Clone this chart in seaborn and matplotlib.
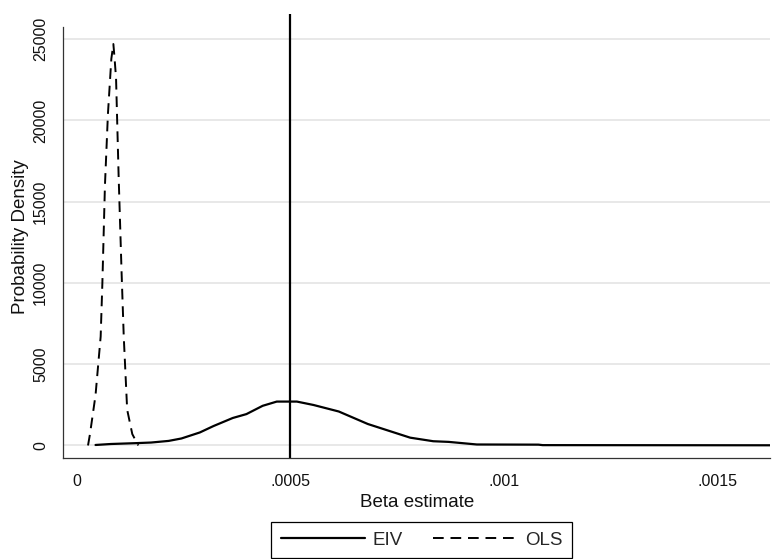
import pandas as pd
import seaborn as sns
import matplotlib.pyplot as plt

# kernel density estimates
eiv_x = [0.000044, 0.00008, 0.000136, 0.000174, 0.000215, 0.000245, 0.000288, 0.00032,
         0.000365, 0.000397, 0.000435, 0.000468, 0.000515, 0.000554, 0.000613, 0.000681,
         0.00078, 0.000834, 0.00087, 0.000936, 0.00108, 0.00109, 0.00165]
eiv_y = [30, 90, 140, 180, 280, 430, 800, 1195, 1690, 1930, 2440, 2700, 2700, 2490, 2090,
         1320, 480, 260, 220, 60, 50, 20, 10]

ols_x = [0.0000264, 0.000031, 0.000044, 0.000056, 0.000060, 0.000063, 0.000066, 0.000073,
         0.000081, 0.0000857, 0.000088, 0.000092, 0.000098, 0.000105, 0.000110, 0.000118,
         0.000130, 0.000144]
ols_y = [0, 700, 3100, 6700, 10000, 13000, 16000, 20400, 23800, 24700, 24000, 22600, 16600,
         10600, 6700, 2200, 700, 0]

true_beta = 0.0005
x_ticks = [0, 0.0005, 0.001, 0.0015]
x_labels = ['0', '.0005', '.001', '.0015']
y_ticks = [0, 5000, 10000, 15000, 20000, 25000]

eiv = pd.DataFrame({'beta': eiv_x, 'density': eiv_y})
ols = pd.DataFrame({'beta': ols_x, 'density': ols_y})

sns.set_style('white')
plt.rcParams['font.family'] = ['Liberation Sans', 'DejaVu Sans']

fig = plt.figure(figsize=(7.72, 5.59), dpi=100)
ax = fig.add_axes([0.082, 0.180, 0.9155, 0.795])

sns.lineplot(data=eiv, x='beta', y='density', ax=ax, color='black', lw=1.6,
             estimator=None, label='EIV')
sns.lineplot(data=ols, x='beta', y='density', ax=ax, color='black', lw=1.4,
             linestyle=(0, (5.5, 3.5)), estimator=None, label='OLS')
ax.axvline(true_beta, color='black', lw=1.6)

ax.set_xlim(-0.0000314, 0.001622)
ax.set_ylim(-795, 26550)
ax.set_xticks(x_ticks)
ax.set_xticklabels(x_labels)
ax.set_yticks(y_ticks)
ax.set_yticklabels([str(v) for v in y_ticks], rotation=90, va='center')
ax.tick_params(axis='both', direction='out', length=5, width=0.9, color='#333333',
               labelsize=11.5, labelcolor='#111111')
ax.tick_params(axis='x', pad=6)
ax.tick_params(axis='y', pad=6)
ax.yaxis.grid(True, color='#e6e6e6', lw=1.3)
ax.set_axisbelow(True)

for side in ['top', 'right']:
    ax.spines[side].set_visible(False)
for side in ['left', 'bottom']:
    ax.spines[side].set_color('#333333')
    ax.spines[side].set_linewidth(0.9)
ax.spines['left'].set_bounds(-795, 25760)

ax.set_xlabel('Beta estimate', fontsize=13.5, labelpad=4, color='#111111')
ax.set_ylabel('Probability Density', fontsize=13.5, labelpad=3, color='#111111')

ax.legend(loc='center', bbox_to_anchor=(0.546, 0.034), bbox_transform=fig.transFigure,
          ncol=2, fontsize=13.5, frameon=True, fancybox=False, edgecolor='black',
          framealpha=1, handlelength=4.5, handletextpad=0.4, columnspacing=1.6,
          borderpad=0.5, borderaxespad=0)
ax.get_legend().get_frame().set_linewidth(0.9)

plt.savefig('out.png', dpi=100)
plt.close()
